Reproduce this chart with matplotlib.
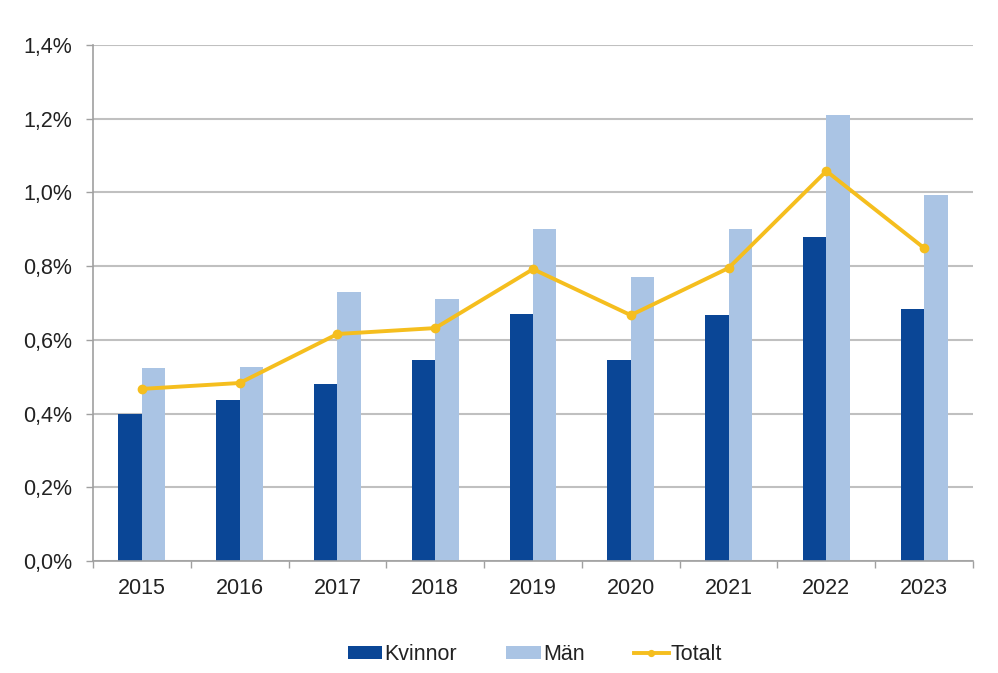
import matplotlib
matplotlib.use("Agg")
import matplotlib.pyplot as plt
import numpy as np
from matplotlib.ticker import FuncFormatter, FixedLocator

plt.rcParams['font.family'] = ['Liberation Sans', 'DejaVu Sans']

years = ["2015", "2016", "2017", "2018", "2019", "2020", "2021", "2022", "2023"]
kvinnor = [0.40, 0.437, 0.48, 0.545, 0.67, 0.545, 0.667, 0.879, 0.684]
man = [0.524, 0.526, 0.73, 0.711, 0.90, 0.77, 0.90, 1.21, 0.993]
totalt = [0.467, 0.483, 0.616, 0.632, 0.792, 0.667, 0.795, 1.058, 0.849]

fig = plt.figure(figsize=(9.98, 6.73), dpi=100)
ax = fig.add_axes([0.0932, 0.1664, 0.8818, 0.7667])

x = np.arange(len(years))
w = 0.24
b1 = ax.bar(x - w/2, kvinnor, width=w, color='#0a4696', label='Kvinnor', zorder=2)
b2 = ax.bar(x + w/2, man, width=w, color='#aac4e4', label='Män', zorder=2)
l1, = ax.plot(x, totalt, color='#f5be1e', lw=2.8, marker='o', markersize=6, label='Totalt', zorder=3)

ax.set_xlim(-0.5, len(years) - 0.5)
ax.set_ylim(0, 1.4)
ax.set_yticks(np.arange(0, 1.41, 0.2))
ax.yaxis.set_major_formatter(FuncFormatter(lambda v, p: f"{v:.1f}%".replace('.', ',')))
ax.set_xticks(x)
ax.set_xticklabels(years)
ax.xaxis.set_minor_locator(FixedLocator(np.arange(-0.5, len(years), 1.0)))
ax.tick_params(axis='x', which='major', length=0, pad=12, labelsize=15.5, colors='#222222')
ax.tick_params(axis='x', which='minor', length=5, width=1, color='#a0a0a0', direction='out')
ax.tick_params(axis='y', length=5, width=1, color='#a0a0a0', labelsize=15.5, pad=10, labelcolor='#222222')

ax.grid(axis='y', color='#c0c0c0', lw=1.5, zorder=0)
ax.set_axisbelow(True)
for s in ['top', 'right']:
    ax.spines[s].set_visible(False)
for s in ['left', 'bottom']:
    ax.spines[s].set_color('#a0a0a0')
    ax.spines[s].set_linewidth(1.2)

leg = fig.legend([b1, b2, l1], ['Kvinnor', 'Män', 'Totalt'], loc='center',
                 bbox_to_anchor=(0.536, 0.027), ncol=3, frameon=False,
                 fontsize=15.5, handlelength=1.6, handleheight=0.55, handletextpad=0.1,
                 columnspacing=2.3, markerscale=0.7)
for t in leg.get_texts():
    t.set_color('#222222')

fig.savefig('out.png', dpi=100)
